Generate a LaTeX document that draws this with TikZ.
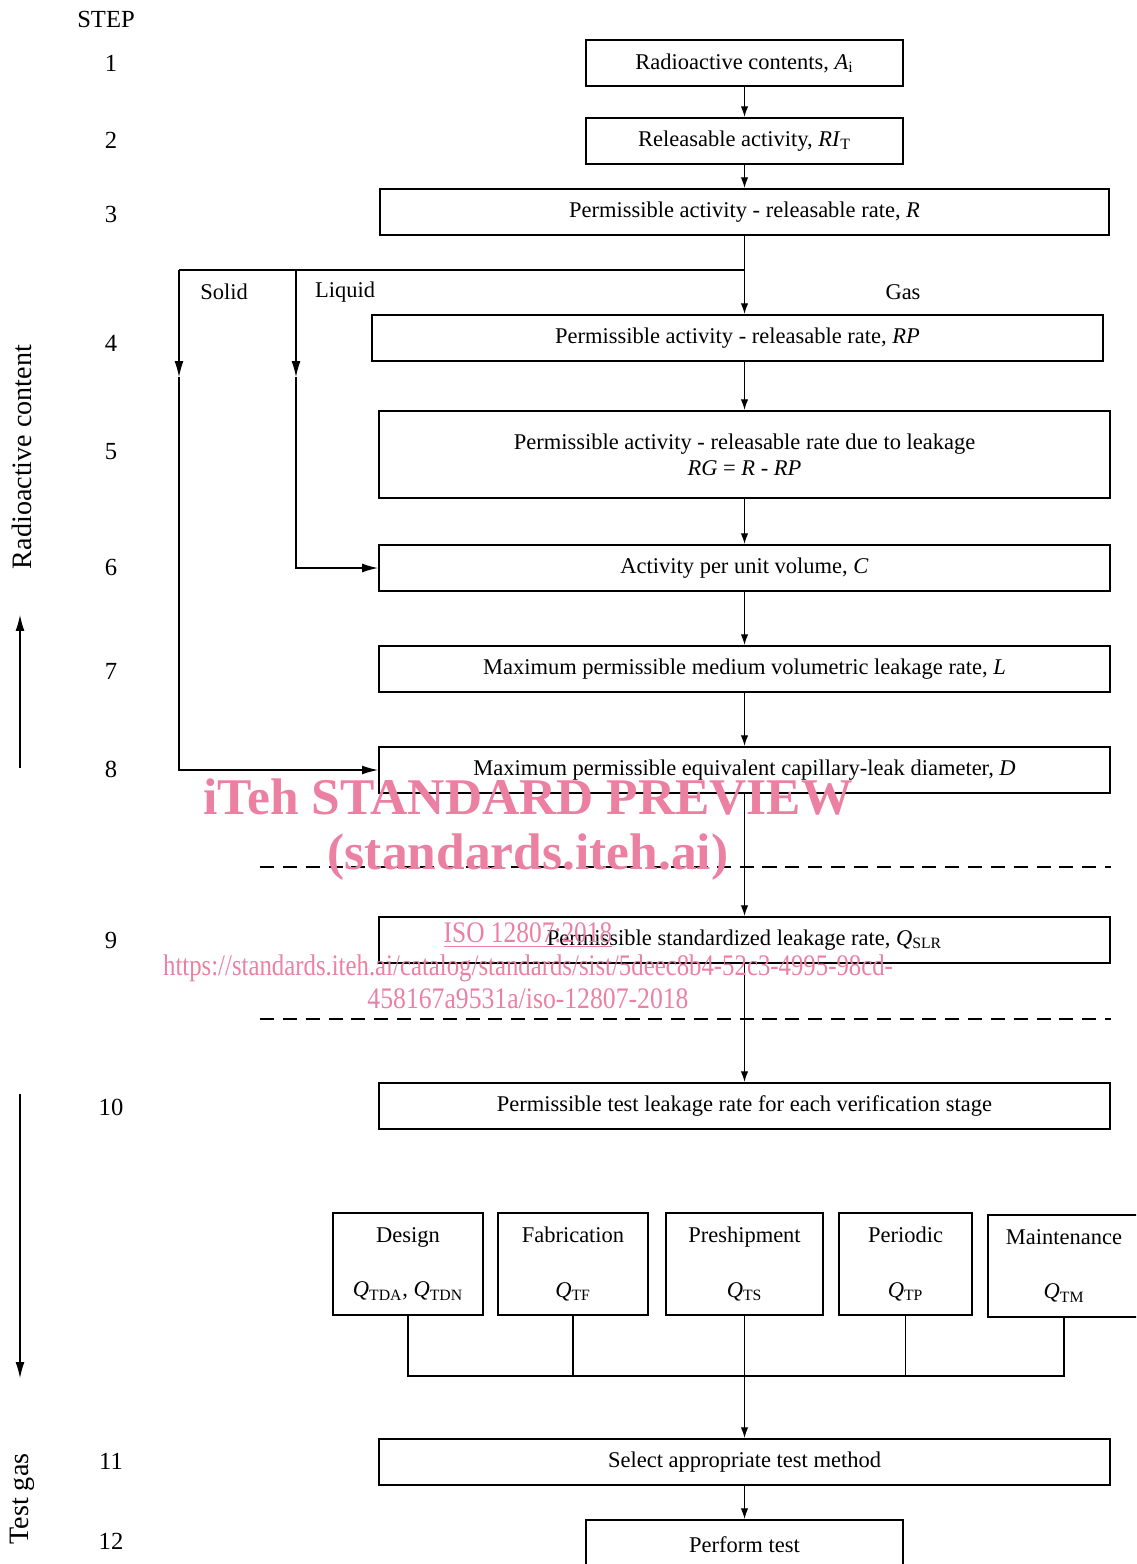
\documentclass[tikz,border=0pt]{standalone}
\usepackage{fontspec}
\setmainfont{Liberation Serif}
\usepackage{xcolor}
\usetikzlibrary{positioning,calc,arrows.meta}

\definecolor{wmpink}{RGB}{236,128,162}

\tikzset{
	stepbox/.style={draw, line width=1.3pt, inner sep=0pt, align=center, font=\fontsize{12.8}{15}\selectfont},
	widebox/.style={stepbox, minimum width=14.62cm, minimum height=0.92cm},
	shortbox/.style={stepbox, minimum width=6.34cm, minimum height=0.92cm},
	stagebox/.style={stepbox, minimum height=2.04cm},
	stepnum/.style={font=\fontsize{14}{16}\selectfont},
	sidelbl/.style={font=\fontsize{16}{18}\selectfont, rotate=90},
	branchlbl/.style={font=\fontsize{12.8}{15}\selectfont},
	conn/.style={line width=0.6pt},
	arr/.style={conn, -{Latex[length=6pt,width=4.2pt]}},
	longarr/.style={conn, -{Latex[length=9pt,width=5pt]}},
	sepline/.style={line width=0.8pt, dash pattern=on 8pt off 5pt},
	wmark/.style={text=wmpink, inner sep=0pt},
}

\begin{document}
\begin{tikzpicture}[x=0.02cm, y=-0.02cm]
	
	\clip (0,0) rectangle (1136,1564);
	
	\node[stepnum] (steptitle) at (106,19) {STEP};
	\foreach \n/\y in {1/63,2/140,3/214,4/343,5/452,6/567,7/671,8/769,9/940,10/1107,11/1461,12/1541}
		\node[stepnum] (s\n) at (111,\y) {\n};
	
	\node[sidelbl] (radlbl) at (22,457) {Radioactive content};
	\node[sidelbl] (gaslbl) at (22,1499) {Test gas};
	
	\coordinate (radfrom) at (20,768);
	\coordinate (radto) at (20,615);
	\coordinate (testfrom) at (20,1094);
	\coordinate (testto) at (20,1378);
	\draw[longarr] (radfrom) -- (radto);
	\draw[longarr] (testfrom) -- (testto);
	
	% steps 1 to 10
	\node[shortbox] (b1) at (744.5,63) {Radioactive contents, \textit{A}\textsubscript{i}};
	\node[shortbox] (b2) at (744.5,141) {Releasable activity, \textit{RI}\textsubscript{T}};
	\node[widebox, minimum width=14.58cm] (b3) at (744.5,212) {Permissible activity - releasable rate, \textit{R}};
	\node[widebox] (b4) at (737.5,338) {Permissible activity - releasable rate, \textit{RP}};
	\node[widebox, minimum height=1.74cm] (b5) at (744.5,454.5) {Permissible activity - releasable rate due to leakage\\\textit{RG} = \textit{R} - \textit{RP}};
	\node[widebox] (b6) at (744.5,568) {Activity per unit volume, \textit{C}};
	\node[widebox] (b7) at (744.5,669) {Maximum permissible medium volumetric leakage rate, \textit{L}};
	\node[widebox] (b8) at (744.5,770) {Maximum permissible equivalent capillary-leak diameter, \textit{D}};
	\node[widebox] (b9) at (744.5,940) {Permissible standardized leakage rate, \textit{Q}\textsubscript{SLR}};
	\node[widebox] (b10) at (744.5,1106) {Permissible test leakage rate for each verification stage};
	
	% verification stages
	\node[stagebox, minimum width=3.00cm] (design) at (408,1264) {Design\\[16pt]\textit{Q}\textsubscript{TDA}, \textit{Q}\textsubscript{TDN}};
	\node[stagebox, minimum width=3.00cm] (fabr) at (573,1264) {Fabrication\\[16pt]\textit{Q}\textsubscript{TF}};
	\node[stagebox, minimum width=3.14cm] (preship) at (744.5,1264) {Preshipment\\[16pt]\textit{Q}\textsubscript{TS}};
	\node[stagebox, minimum width=2.66cm] (period) at (905.5,1264) {Periodic\\[16pt]\textit{Q}\textsubscript{TP}};
	\node[stagebox, minimum width=3.04cm] (maint) at (1064,1266) {Maintenance\\[16pt]\textit{Q}\textsubscript{TM}};
	
	\node[widebox] (b11) at (744.5,1462) {Select appropriate test method};
	\node[shortbox, minimum height=1.0cm] (b12) at (744.5,1545) {Perform test};
	
	% main chain
	\draw[arr] (b1) -- (b2);
	\draw[arr] (b2) -- (b3);
	\draw[arr] (b3.south) -- (b3.south |- b4.north);
	\draw[arr] (b3.south |- b4.south) -- (b5.north);
	\draw[arr] (b5) -- (b6);
	\draw[arr] (b6) -- (b7);
	\draw[arr] (b7) -- (b8);
	\draw[arr] (b8) -- (b9);
	\draw[arr] (b9) -- (b10);
	\draw[arr] (preship) -- (b11);
	\draw[arr] (b11) -- (b12);
	
	% solid and liquid branches
	\coordinate (fork) at (744.5,270);
	\coordinate (solidtop) at (179,270);
	\coordinate (liquidtop) at (296,270);
	\coordinate (solidmid) at (179,377);
	\coordinate (liquidmid) at (296,377);
	\draw[conn] (fork) -- (solidtop);
	\draw[longarr] (solidtop) -- (solidmid);
	\draw[longarr] (solidmid) -- (solidmid |- b8.west) -- (b8.west);
	\draw[longarr] (liquidtop) -- (liquidmid);
	\draw[longarr] (liquidmid) -- (liquidmid |- b6.west) -- (b6.west);
	
	\node[branchlbl] (solidlbl) at (224,292) {Solid};
	\node[branchlbl] (liquidlbl) at (345,292) {Liquid};
	\node[branchlbl] (gas) at (903,292) {Gas};
	
	% collecting line
	\coordinate (bus) at (744.5,1376);
	\draw[conn] (design.south) -- (design.south |- bus) -- (maint.south |- bus) -- (maint.south);
	\draw[conn] (fabr.south) -- (fabr.south |- bus);
	\draw[conn] (period.south) -- (period.south |- bus);
	
	% stage separators
	\coordinate (sepa) at (260,867);
	\coordinate (sepb) at (260,1019);
	\draw[sepline] (sepa) -- (sepa -| b9.east);
	\draw[sepline] (sepb) -- (sepb -| b9.east);
	
	% watermark
	\node[wmark, font=\fontsize{29.3}{31}\selectfont\bfseries] (wm1) at (528,797) {iTeh STANDARD PREVIEW};
	\node[wmark, font=\fontsize{29.3}{31}\selectfont\bfseries] (wm2) at (528,857) {(standards.iteh.ai)};
	\node[wmark, font=\fontsize{17}{20}\selectfont] (wm3) at (528,935) {\scalebox{0.85}[1]{\underline{ISO 12807:2018}}};
	\node[wmark, font=\fontsize{17}{20}\selectfont] (wm4) at (528,968) {\scalebox{0.83}[1]{https://standards.iteh.ai/catalog/standards/sist/5deec8b4-52c3-4995-98cd-}};
	\node[wmark, font=\fontsize{17}{20}\selectfont] (wm5) at (528,999) {\scalebox{0.86}[1]{458167a9531a/iso-12807-2018}};
	
\end{tikzpicture}
\end{document}
